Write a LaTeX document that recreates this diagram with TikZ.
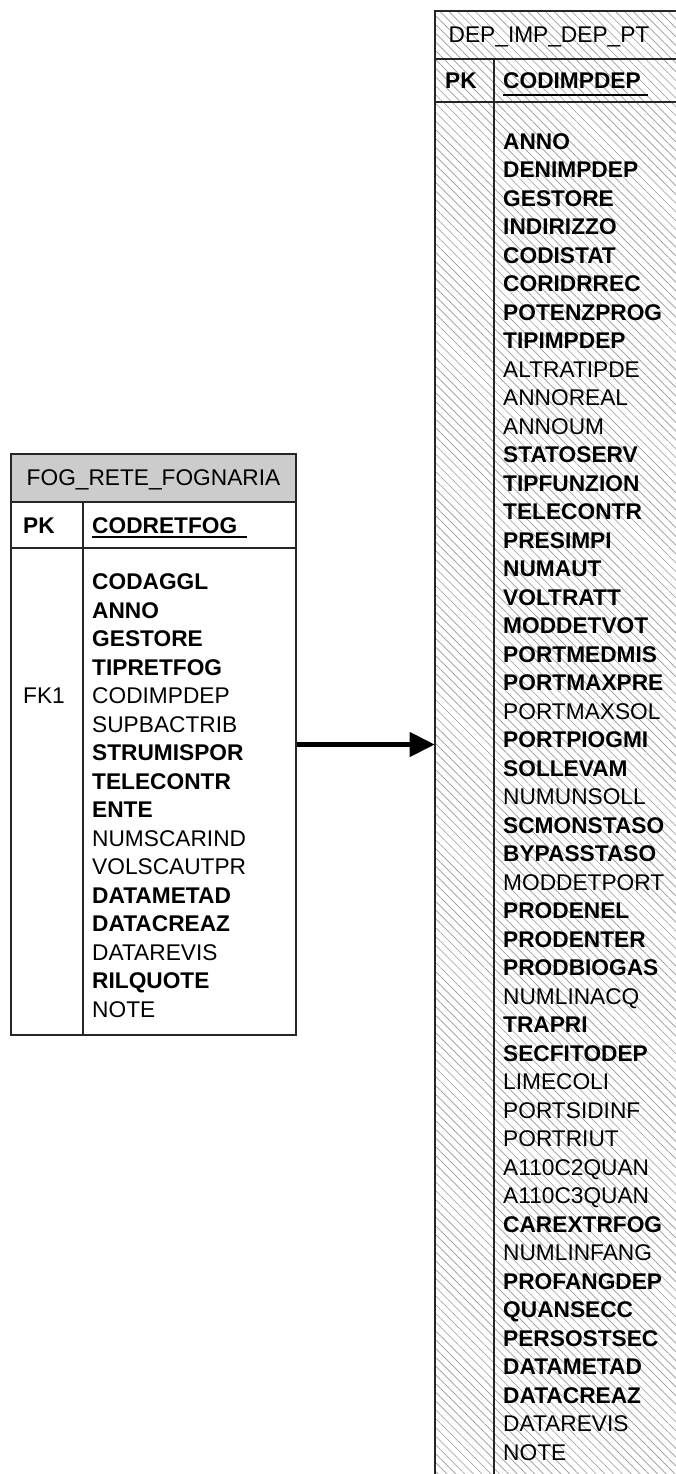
\documentclass[tikz,border=0pt]{standalone}
\usepackage{fontspec}
\setmainfont{Liberation Sans}
\usetikzlibrary{arrows.meta,patterns.meta}
\begin{document}
\begin{tikzpicture}[x=1pt,y=-1pt,
  tb/.style={draw=black!85, line width=1.4pt},
  fb/.style={font=\fontsize{22.7}{27}\selectfont\bfseries, anchor=west, inner sep=0pt, text height=16.3pt, text depth=0pt},
  fr/.style={font=\fontsize{22.7}{27}\selectfont, anchor=west, inner sep=0pt, text height=16.3pt, text depth=0pt},
  hd/.style={fr, anchor=center},
  uline/.style={line width=2pt},
  conn/.style={line width=4.5pt, -{Triangle[length=25pt,width=24pt]}},
  hatch/.style={pattern={Lines[angle=-45,distance=6.2pt,line width=0.65pt]}, pattern color=black!40}
]
\fill[white] (0,0) rectangle (676,1474);
\useasboundingbox (0,0) rectangle (676,1474);
\clip (0,0) rectangle (676,1474);

% ---------- left table: FOG_RETE_FOGNARIA ----------
\fill[gray!40] (11,454) rectangle (296,502);
\node[tb, minimum width=285pt, minimum height=581pt, inner sep=0pt] (fog) at (153.5,744.5) {};
\draw[tb] (11,502) -- (296,502);
\draw[tb] (11,548) -- (296,548);
\draw[tb] (83,502) -- (83,1035);
\node[hd] (fogh) at (153.5,477) {FOG\_RETE\_FOGNARIA};
\node[fb] (fogpk) at (23,525) {PK};
\node[fb] (fogkey) at (92,525) {CODRETFOG};
\draw[uline] (92,537) -- (247,537);
\node[fr] (fogfk) at (23,695.5) {FK1};
\foreach \t/\s [count=\i from 0] in {CODAGGL/fb, ANNO/fb, GESTORE/fb, TIPRETFOG/fb,
  CODIMPDEP/fr, SUPBACTRIB/fr, STRUMISPOR/fb, TELECONTR/fb, ENTE/fb, NUMSCARIND/fr,
  VOLSCAUTPR/fr, DATAMETAD/fb, DATACREAZ/fb, DATAREVIS/fr, RILQUOTE/fb, NOTE/fr}
  \node[\s, name=L\i] at (92,581.5+\i*28.5) {\t};

% ---------- right table: DEP_IMP_DEP_PT ----------
\node[tb, hatch, minimum width=300pt, minimum height=1520pt, inner sep=0pt] (dep) at (585,771) {};
\draw[tb] (435,59) -- (740,59);
\draw[tb] (435,102) -- (740,102);
\draw[tb] (494,59) -- (494,1540);
\node[hd] (deph) at (549,34) {DEP\_IMP\_DEP\_PT};
\node[fb] (deppk) at (445,80) {PK};
\node[fb] (depkey) at (503,80) {CODIMPDEP};
\draw[uline] (503,95) -- (648,95);
\foreach \t/\s [count=\i from 0] in {ANNO/fb, DENIMPDEP/fb, GESTORE/fb, INDIRIZZO/fb,
  CODISTAT/fb, CORIDRREC/fb, POTENZPROG/fb, TIPIMPDEP/fb, ALTRATIPDE/fr, ANNOREAL/fr,
  ANNOUM/fr, STATOSERV/fb, TIPFUNZION/fb, TELECONTR/fb, PRESIMPI/fb, NUMAUT/fb,
  VOLTRATT/fb, MODDETVOT/fb, PORTMEDMIS/fb, PORTMAXPRE/fb, PORTMAXSOL/fr, PORTPIOGMI/fb,
  SOLLEVAM/fb, NUMUNSOLL/fr, SCMONSTASO/fb, BYPASSTASO/fb, MODDETPORT/fr, PRODENEL/fb,
  PRODENTER/fb, PRODBIOGAS/fb, NUMLINACQ/fr, TRAPRI/fb, SECFITODEP/fb, LIMECOLI/fr,
  PORTSIDINF/fr, PORTRIUT/fr, A110C2QUAN/fr, A110C3QUAN/fr, CAREXTRFOG/fb, NUMLINFANG/fr,
  PROFANGDEP/fb, QUANSECC/fb, PERSOSTSEC/fb, DATAMETAD/fb, DATACREAZ/fb, DATAREVIS/fr, NOTE/fr}
  \node[\s, name=R\i] at (503,141+\i*28.5) {\t};

% ---------- relationship ----------
\draw[conn] (fog.east) -- (dep.west |- fog.east);
\end{tikzpicture}
\end{document}
